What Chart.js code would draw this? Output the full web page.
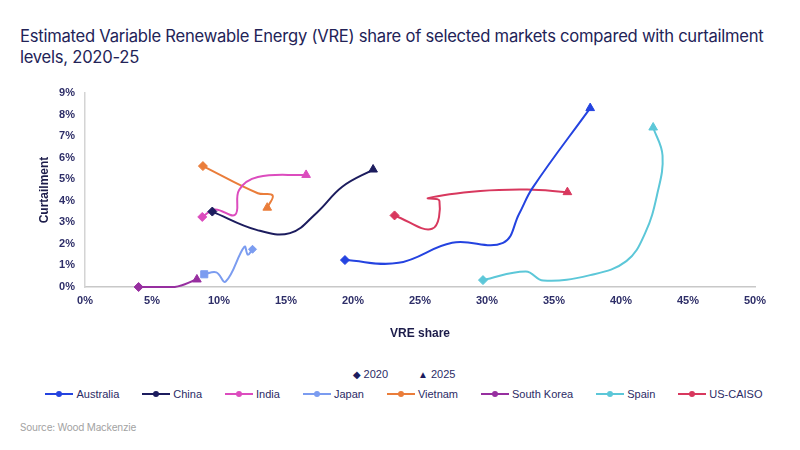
<!DOCTYPE html>
<html>
<head>
<meta charset="utf-8">
<script src="https://cdn.jsdelivr.net/npm/chart.js@4.4.0/dist/chart.umd.min.js"></script>
<style>
  body { margin: 0; width: 800px; height: 450px; background: #fff; position: relative; overflow: hidden; font-family: Inter, "Noto Sans", sans-serif; }
  #title { position: absolute; left: 20px; top: 26px; font-size: 16.6px; line-height: 21px; color: #232357; white-space: nowrap; letter-spacing: -0.25px; }
  #wrap { position: absolute; left: 0; top: 0; width: 800px; height: 360px; }
  .legend { position: absolute; left: 0; width: 800px; display: flex; justify-content: center; align-items: center;
            font-family: "Liberation Sans", Arial, sans-serif; font-size: 11px; color: #2b2b66; }
  #years { top: 368px; gap: 30px; padding-left: 4px; }
  #markets { top: 388px; gap: 23px; padding-left: 4px; }
  .item { display: flex; align-items: center; white-space: nowrap; }
  .icon { position: relative; width: 28px; height: 2px; margin-right: 3px; }
  .icon i { position: absolute; left: 11px; top: -2px; width: 6px; height: 6px; border-radius: 50%; }
  .sym { margin-right: 3px; font-size: 10px; }
  #source { position: absolute; left: 20px; top: 421px; font-size: 10px; color: #a3a3a3; letter-spacing: -0.2px; }
</style>
</head>
<body>
<div id="title">Estimated Variable Renewable Energy (VRE) share of selected markets compared with curtailment<br>levels, 2020-25</div>
<div id="wrap"><canvas id="chart"></canvas></div>
<div class="legend" id="years"></div>
<div class="legend" id="markets"></div>
<div id="source">Source: Wood Mackenzie</div>
<script>
const years = ["2020", "2025"];
const markets = ["Australia", "China", "India", "Japan", "Vietnam", "South Korea", "Spain", "US-CAISO"];
const colors = ["#2443e0", "#1c1c5e", "#dc4cbe", "#7b9cf0", "#ea7d3a", "#972fa0", "#5cc7d8", "#d8385e"];

// VRE share (%) and curtailment (%) read along each path, 2020 -> 2025
const australiaShare = [19.4, 23.4, 27.4, 31.2, 32.4, 33.4, 37.7];
const australiaCurt  = [1.25, 1.12, 2.05, 2.05, 3.4, 4.6, 8.3];
const chinaShare = [9.5, 12.8, 15.3, 17.3, 19.2, 21.5];
const chinaCurt  = [3.5, 2.65, 2.5, 3.45, 4.65, 5.45];
const indiaShare = [8.75, 9.7, 11.2, 11.5, 12.9, 16.5];
const indiaCurt  = [3.25, 3.6, 3.35, 4.5, 5.1, 5.2];
const japanShare = [8.9, 9.8, 10.5, 11.9, 12.15, 12.5];
const japanCurt  = [0.59, 0.68, 0.25, 1.87, 1.5, 1.75];
const vietnamShare = [8.8, 12.9, 14.0, 13.6];
const vietnamCurt  = [5.61, 4.35, 4.25, 3.68];
const koreaShare = [4.0, 6.7, 8.35];
const koreaCurt  = [0.0, 0.0, 0.35];
const spainShare = [29.7, 32.9, 34.2, 37.7, 40.4, 41.8, 42.7, 43.1, 42.4];
const spainCurt  = [0.32, 0.72, 0.3, 0.55, 1.2, 2.5, 4.3, 6.1, 7.4];
const caisoShare = [23.1, 25.9, 26.45, 25.6, 29.5, 33.0, 36.0];
const caisoCurt  = [3.32, 2.7, 4.0, 4.12, 4.45, 4.52, 4.4];

const xTicks = [0, 5, 10, 15, 20, 25, 30, 35, 40, 45, 50];
const yTicks = [0, 1, 2, 3, 4, 5, 6, 7, 8, 9];

const paths = [
  [australiaShare, australiaCurt], [chinaShare, chinaCurt], [indiaShare, indiaCurt],
  [japanShare, japanCurt], [vietnamShare, vietnamCurt], [koreaShare, koreaCurt],
  [spainShare, spainCurt], [caisoShare, caisoCurt],
];

const axisColor = "#2e2e68";
const tickFont = {family: "'Liberation Sans', Arial, sans-serif", size: 11, weight: "bold"};
const titleFont = {family: "'Liberation Sans', Arial, sans-serif", size: 12, weight: "bold"};

const datasets = markets.map((name, i) => {
  const [xs, ys] = paths[i];
  const last = xs.length - 1;
  const isJapan = name === "Japan";
  return {
    label: name,
    data: xs.map((x, j) => ({x, y: ys[j]})),
    showLine: true,
    tension: 0.4,
    borderColor: colors[i],
    backgroundColor: colors[i],
    borderWidth: 2,
    pointBorderWidth: 1,
    pointRadius: xs.map((_, j) => j === 0 ? (isJapan ? 5 : 4.5) : j === last ? (isJapan ? 4 : 5) : 0),
    pointStyle: xs.map((_, j) => j === 0 ? (isJapan ? "rect" : "rectRot") : (isJapan ? "rectRot" : "triangle")),
    clip: false,
  };
});

new Chart(document.getElementById("chart"), {
  type: "scatter",
  data: {datasets},
  options: {
    responsive: true,
    maintainAspectRatio: false,
    animation: false,
    events: [],
    layout: {padding: {left: 0, right: 45, top: 93, bottom: 18}},
    plugins: {legend: {display: false}, tooltip: {enabled: false}},
    scales: {
      x: {
        type: "linear",
        min: 0, max: 50,
        afterBuildTicks: (s) => { s.ticks = xTicks.map((v) => ({value: v})); },
        afterFit: (s) => { s.height = 55; },
        grid: {display: false, drawTicks: false},
        border: {display: true, color: "#c8c8c8", width: 1.5},
        ticks: {color: axisColor, font: tickFont, padding: 7, callback: (v) => v + "%"},
        title: {display: true, text: "VRE share", color: "#1c1c4a", font: titleFont, padding: {top: 0, bottom: 1}},
      },
      y: {
        type: "linear",
        min: 0, max: 9,
        afterBuildTicks: (s) => { s.ticks = yTicks.map((v) => ({value: v})); },
        afterFit: (s) => { s.width = 85; },
        grid: {display: false, drawTicks: false},
        border: {display: true, color: "#d4d4d4", width: 1.5},
        ticks: {color: axisColor, font: tickFont, padding: 10, callback: (v) => v + "%"},
        title: {display: true, text: "Curtailment", color: "#1c1c4a", font: titleFont, padding: {top: 37, bottom: 0}},
      },
    },
  },
});

// legend rows: year markers, then one entry per market
const yearBox = document.getElementById("years");
years.forEach((yr, i) => {
  const el = document.createElement("span");
  el.className = "item";
  el.innerHTML = `<span class="sym" style="color:#1c1c5e">${i === 0 ? "◆" : "▲"}</span>${yr}`;
  yearBox.appendChild(el);
});
const marketBox = document.getElementById("markets");
markets.forEach((name, i) => {
  const el = document.createElement("span");
  el.className = "item";
  el.innerHTML = `<span class="icon" style="background:${colors[i]}"><i style="background:${colors[i]}"></i></span>${name}`;
  marketBox.appendChild(el);
});
</script>
</body>
</html>
